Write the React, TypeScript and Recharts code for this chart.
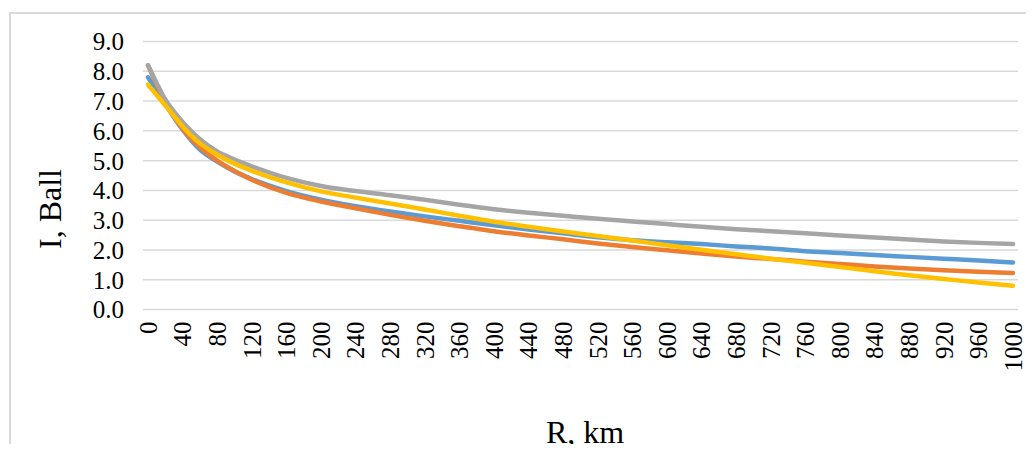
import { LineChart, Line, XAxis, YAxis, CartesianGrid } from 'recharts';

// distance from epicentre, km
const distances = [0, 10, 20, 30, 40, 60, 80, 100, 120, 160, 200, 240, 280, 320, 360, 400, 440, 480, 520, 560, 600, 640, 680, 720, 760, 800, 840, 880, 920, 960, 1000];

// intensity, ball
const seriesBlue = [7.8, 7.35, 6.9, 6.45, 6.04, 5.37, 4.97, 4.64, 4.38, 3.98, 3.69, 3.47, 3.29, 3.13, 2.98, 2.83, 2.69, 2.56, 2.43, 2.33, 2.26, 2.2, 2.12, 2.05, 1.96, 1.9, 1.83, 1.77, 1.71, 1.65, 1.58];
const seriesOrange = [8.2, 7.55, 6.95, 6.48, 6.07, 5.45, 5.0, 4.65, 4.36, 3.92, 3.63, 3.4, 3.18, 2.98, 2.8, 2.63, 2.49, 2.36, 2.22, 2.1, 1.99, 1.88, 1.78, 1.7, 1.61, 1.53, 1.45, 1.38, 1.32, 1.27, 1.23];
const seriesGray = [8.2, 7.6, 7.05, 6.65, 6.3, 5.72, 5.31, 5.04, 4.81, 4.42, 4.15, 3.98, 3.84, 3.69, 3.52, 3.37, 3.25, 3.15, 3.05, 2.96, 2.87, 2.78, 2.7, 2.63, 2.56, 2.49, 2.42, 2.35, 2.29, 2.24, 2.2];
const seriesYellow = [7.55, 7.2, 6.85, 6.5, 6.15, 5.58, 5.2, 4.9, 4.66, 4.27, 3.97, 3.76, 3.56, 3.36, 3.15, 2.95, 2.78, 2.62, 2.47, 2.32, 2.16, 2.01, 1.86, 1.71, 1.57, 1.43, 1.29, 1.15, 1.03, 0.91, 0.8];

const xTicks = [0, 40, 80, 120, 160, 200, 240, 280, 320, 360, 400, 440, 480, 520, 560, 600, 640, 680, 720, 760, 800, 840, 880, 920, 960, 1000];
const yTicks = [0, 1, 2, 3, 4, 5, 6, 7, 8, 9];

const data = distances.map((r, i) => ({
  r,
  blue: seriesBlue[i],
  orange: seriesOrange[i],
  gray: seriesGray[i],
  yellow: seriesYellow[i],
}));

const FONT = '"Liberation Serif", "Times New Roman", serif';

function RotatedTick({ x, y, payload }: any) {
  return (
    <text
      x={x}
      y={y}
      transform={`rotate(-90 ${x} ${y})`}
      textAnchor="end"
      dy="0.35em"
      fontSize={25}
      fontFamily={FONT}
      fill="#000"
    >
      {payload.value}
    </text>
  );
}

export default function App() {
  return (
    <div style={{ position: 'relative', width: 1034, height: 452, margin: -8, overflow: 'hidden' }}>
      <div
        style={{
          position: 'absolute',
          left: 9,
          top: 12,
          width: 1025,
          height: 440,
          boxSizing: 'border-box',
          borderLeft: '2px solid #d9d9d9',
          borderTop: '2px solid #d9d9d9',
          borderRight: '2px solid #d9d9d9',
        }}
      />
      <div style={{ position: 'absolute', left: 9, top: 12 }}>
        <LineChart width={1025} height={440} data={data} margin={{ top: 29.5, right: 16, left: 0, bottom: 0 }}>
          <CartesianGrid vertical={false} stroke="#d9d9d9" strokeWidth={1.5} />
          <XAxis
            dataKey="r"
            type="number"
            domain={[-5.8, 1005.8]}
            ticks={xTicks}
            interval={0}
            axisLine={false}
            tickLine={false}
            tickMargin={6}
            height={142.4}
            tick={<RotatedTick />}
          />
          <YAxis
            domain={[0, 9]}
            ticks={yTicks}
            interval={0}
            width={134}
            axisLine={false}
            tickLine={false}
            tickMargin={13}
            tickFormatter={(v: number) => v.toFixed(1)}
            tick={{ fontSize: 25, fontFamily: FONT, fill: '#000' }}
          />
          <Line type="monotone" dataKey="blue" stroke="#5B9BD5" strokeWidth={4.5} strokeLinecap="round" dot={false} isAnimationActive={false} />
          <Line type="monotone" dataKey="orange" stroke="#ED7D31" strokeWidth={4.5} strokeLinecap="round" dot={false} isAnimationActive={false} />
          <Line type="monotone" dataKey="gray" stroke="#A5A5A5" strokeWidth={4.5} strokeLinecap="round" dot={false} isAnimationActive={false} />
          <Line type="monotone" dataKey="yellow" stroke="#FFC000" strokeWidth={4.5} strokeLinecap="round" dot={false} isAnimationActive={false} />
        </LineChart>
      </div>
      <div
        style={{
          position: 'absolute',
          left: 50,
          top: 209,
          transform: 'translate(-50%, -50%) rotate(-90deg)',
          fontFamily: FONT,
          fontSize: 32,
          whiteSpace: 'nowrap',
          lineHeight: 1,
        }}
      >
        I, Ball
      </div>
      <div
        style={{
          position: 'absolute',
          left: 585,
          top: 416,
          transform: 'translateX(-50%)',
          fontFamily: FONT,
          fontSize: 32,
          whiteSpace: 'nowrap',
          lineHeight: 1,
        }}
      >
        R, km
      </div>
    </div>
  );
}
